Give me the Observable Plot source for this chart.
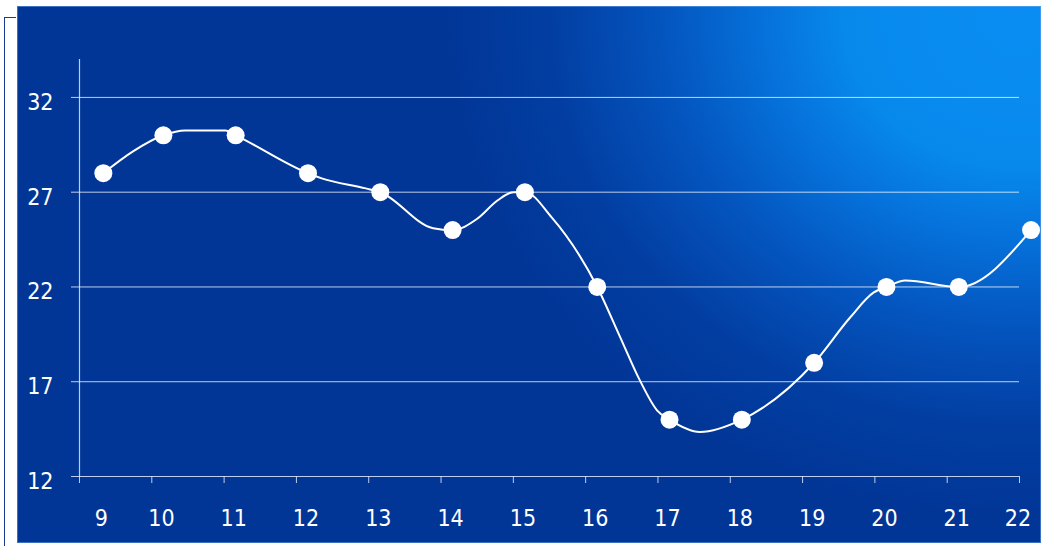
<!DOCTYPE html>
<html>
<head>
<meta charset="utf-8">
<script src="https://cdn.jsdelivr.net/npm/d3@7"></script>
<script src="https://cdn.jsdelivr.net/npm/@observablehq/plot@0.6"></script>
<style>
  html, body { margin: 0; padding: 0; background: #ffffff; }
  #wrap { position: relative; width: 1041px; height: 546px; overflow: hidden; }
  #panel {
    position: absolute; left: 17px; top: 6px; width: 1024px; height: 537px;
    background: radial-gradient(ellipse 570px 500px at 1000px 10px,
      #0a8df2 0%, #0789ec 30%, #0672db 44%, #0455bf 62%, #023ea2 82%, #013697 100%);
    box-shadow: inset 0 0 0 1px rgba(120,170,240,0.5);
  }
  #bracket {
    position: absolute; left: 4px; top: 17px; width: 11px; height: 540px;
    border-left: 1.5px solid #1a3a94; border-top: 1.5px solid #1a3a94;
  }
  #chart { position: absolute; left: 0; top: 0; }
  #chart text { font-stretch: condensed; }
</style>
</head>
<body>
<div id="wrap">
  <div id="bracket"></div>
  <div id="panel"></div>
  <div id="chart"></div>
</div>
<script>
// Hourly readings (dots)
const pointHours = [9.17, 10, 11, 12, 13, 14, 15, 16, 17, 18, 19, 20, 21, 22];
const pointTemps = [28, 30, 30, 28, 27, 25, 27, 22, 15, 15, 18, 22, 22, 25];
const hourLabels = ["9","10","11","12","13","14","15","16","17","18","19","20","21","22"];

// Finer readings (line)
const lineHours = [9.17, 9.58, 10, 10.3, 10.86, 11, 12, 12.19, 12.8, 13, 13.73, 14, 14.34, 14.62, 14.84, 15,
                   15.37, 16, 16.32, 16.59, 16.83, 17, 17.42, 18, 19, 19.5, 19.82, 20, 20.26, 21, 22];
const lineTemps = [28, 29.15, 30, 30.25, 30.25, 30, 28, 27.73, 27.2, 27, 25.1, 25, 25.6, 26.56, 27, 27,
                   25.67, 22, 19.33, 17.07, 15.48, 15, 14.35, 15, 18, 20.4, 21.7, 22, 22.34, 22, 25];

// Axis setup
const yTicks = [12, 17, 22, 27, 32];
const yDomain = [12, 34];
const xDomain = [8.84, 21.84];
const xBoundaries = d3.range(0, 14).map(k => xDomain[0] + k);

const points = pointHours.map((h, i) => ({h, t: pointTemps[i], label: hourLabels[i]}));
const line = lineHours.map((h, i) => ({h, t: lineTemps[i]}));

const font = "'Liberation Sans Narrow', 'DejaVu Sans Condensed', 'DejaVu Sans', sans-serif";
const axisColor = "rgba(225,232,250,0.85)";

const chart = Plot.plot({
  width: 1041,
  height: 546,
  marginLeft: 79,
  marginRight: 22,
  marginTop: 59,
  marginBottom: 70,
  style: { background: "transparent", fontFamily: font, overflow: "visible" },
  x: { type: "linear", domain: xDomain, axis: null, label: null },
  y: { type: "linear", domain: yDomain, axis: null, label: null },
  marks: [
    Plot.ruleY(yTicks.filter(v => v !== 12), { stroke: "#ffffff", strokeOpacity: 0.75, strokeWidth: 1 }),
    Plot.ruleY([12], { stroke: axisColor, strokeWidth: 1.2 }),
    Plot.ruleX([xDomain[0]], { stroke: axisColor, strokeWidth: 1.2 }),
    Plot.axisY(yTicks, { tickSize: 8, tickFormat: () => "", stroke: axisColor, label: null }),
    Plot.axisX(xBoundaries, { tickSize: 7, tickFormat: () => "", stroke: axisColor, label: null }),
    Plot.text(yTicks, {
      x: () => xDomain[0], y: d => d, text: d => String(d),
      dx: -26, dy: 5, textAnchor: "end", fill: "#ffffff", fontSize: 23, fontFamily: font
    }),
    Plot.text(points.slice(0, -1), {
      x: "h", y: () => yDomain[0], text: "label",
      textAnchor: "middle", dx: -2,
      dy: 42, fill: "#ffffff", fontSize: 23, fontFamily: font
    }),
    Plot.text(points.slice(-1), {
      x: "h", y: () => yDomain[0], text: "label",
      textAnchor: "end", dx: 0,
      dy: 42, fill: "#ffffff", fontSize: 23, fontFamily: font
    }),
    Plot.line(line, { x: "h", y: "t", stroke: "#ffffff", strokeWidth: 2, curve: "monotone-x" }),
    Plot.dot(points, { x: "h", y: "t", r: 9, fill: "#ffffff", stroke: "none" })
  ]
});
document.getElementById("chart").appendChild(chart);
</script>
</body>
</html>
